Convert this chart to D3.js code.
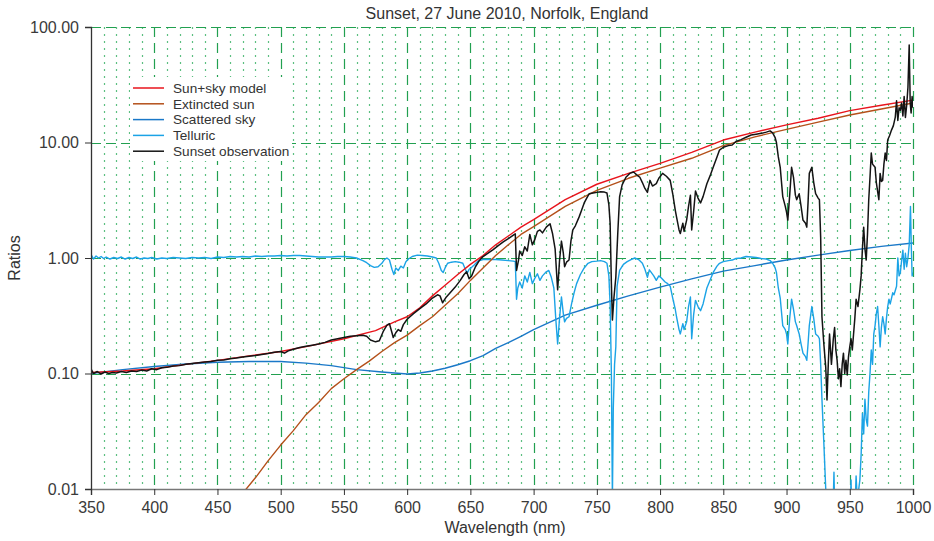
<!DOCTYPE html>
<html>
<head>
<meta charset="utf-8">
<script src="https://cdn.jsdelivr.net/npm/d3@7"></script>
<style>
  html, body { margin: 0; padding: 0; background: #fff; }
  svg { display: block; font-family: "Liberation Sans", Arial, Helvetica, sans-serif; }
</style>
</head>
<body>
<svg id="chart" width="934" height="541"></svg>
<script>
// ---- data --------------------------------------------------------------
const chartTitle = "Sunset, 27 June 2010, Norfolk, England";
const xTicks = [350, 400, 450, 500, 550, 600, 650, 700, 750, 800, 850, 900, 950, 1000];
const yTicks = [0.01, 0.1, 1, 10, 100];
const yTickLabels = ["0.01", "0.10", "1.00", "10.00", "100.00"];
const seriesNames = ["Sun+sky model", "Extincted sun", "Scattered sky", "Telluric", "Sunset observation"];
const seriesColors = ["#e8141c", "#b4501a", "#1a78c8", "#1ba3e6", "#141414"];

// [wavelength nm, ratio]
const sunSkyModel = [
  [350,0.102],[375,0.105],[400,0.110],[425,0.120],[450,0.130],[475,0.142],[500,0.155],
  [525,0.175],[550,0.200],[575,0.235],[590,0.280],[600,0.310],[610,0.370],[620,0.470],
  [630,0.580],[640,0.720],[650,0.880],[660,1.05],[670,1.30],[680,1.55],[690,1.85],
  [700,2.15],[725,3.20],[750,4.35],[775,5.40],[800,6.60],[825,8.20],[850,10.5],
  [875,12.3],[900,14.2],[925,16.2],[950,18.9],[975,21.0],[1000,23.3]
];

const extinctedSun = [
  [465,0.0080],[470,0.0092],[480,0.0125],[490,0.0175],[500,0.024],[510,0.032],[520,0.044],
  [530,0.056],[540,0.074],[550,0.090],[560,0.108],[570,0.128],[580,0.155],[590,0.185],
  [600,0.215],[610,0.260],[620,0.310],[630,0.390],[640,0.490],[650,0.640],[660,0.820],
  [670,1.05],[680,1.30],[690,1.60],[700,1.87],[725,2.80],[750,3.85],[775,4.90],[800,6.00],
  [825,7.30],[850,9.40],[875,11.2],[900,13.0],[925,15.0],[950,17.3],[975,19.5],[1000,22.0]
];

const scatteredSky = [
  [350,0.100],[375,0.108],[400,0.115],[425,0.121],[450,0.125],[475,0.127],[500,0.127],
  [520,0.123],[540,0.117],[560,0.108],[580,0.103],[590,0.101],[600,0.099],[610,0.101],
  [620,0.105],[630,0.111],[640,0.119],[650,0.129],[660,0.143],[670,0.165],[680,0.185],
  [690,0.210],[700,0.240],[725,0.320],[750,0.390],[775,0.470],[800,0.560],[825,0.660],
  [850,0.770],[875,0.860],[900,0.960],[925,1.06],[950,1.16],[975,1.26],[1000,1.35]
];

const telluric = [
  [350,0.78],[350.3,1.06],[352,0.98],[354,1.04],[356,1.00],[358,1.03],[360,0.99],[362,1.02],
  [365,0.98],[368,1.01],[371,0.99],[374,1.02],[377,0.98],[380,1.01],[383,0.99],[386,1.02],
  [389,0.98],[392,1.00],[395,0.99],[398,1.01],[402,0.98],[406,1.00],[410,0.99],[415,1.01],
  [420,1.00],[425,0.99],[430,1.01],[435,1.00],[440,1.01],[445,0.99],[450,1.02],[455,1.01],
  [460,1.03],[465,1.02],[470,1.03],[475,1.02],[480,1.04],[485,1.03],[490,1.04],[495,1.04],
  [500,1.05],[505,1.04],[510,1.05],[515,1.05],[520,1.04],[525,1.03],[530,1.02],[535,1.02],
  [540,1.02],[545,1.03],[550,1.03],[555,1.02],[560,1.00],[565,0.95],[568,0.91],[571,0.86],
  [574,0.83],[577,0.84],[580,0.90],[582,0.97],[584,1.00],[586,0.96],[588,0.80],[589.5,0.72],
  [591,0.82],[593,0.78],[595,0.85],[597,0.82],[599,0.93],[601,0.98],[604,1.03],[608,1.06],
  [612,1.05],[616,1.04],[620,1.02],[623,1.00],[625,0.90],[627,0.78],[628.5,0.75],[630,0.82],
  [632,0.90],[635,0.92],[638,0.93],[641,0.92],[644,0.90],[646,0.80],[647.5,0.74],[649,0.80],
  [651,0.83],[653,0.87],[656,0.94],[660,0.97],[665,0.97],[670,0.97],[675,0.96],[680,0.95],
  [684,0.94],[685.5,0.93],[686.5,0.44],[687.5,0.55],[689,0.62],[691,0.55],[693,0.70],
  [695,0.62],[697,0.75],[699,0.60],[701,0.67],[703,0.73],[705,0.64],[707,0.70],[710,0.76],
  [712,0.78],[714,0.68],[716,0.55],[717.5,0.30],[719,0.18],[720.5,0.30],[722,0.46],
  [723.5,0.33],[724.5,0.28],[726,0.30],[728,0.31],[730,0.40],[732,0.50],[734,0.60],
  [737,0.72],[740,0.82],[743,0.90],[746,0.93],[750,0.94],[753,0.95],[756,0.93],[758,0.90],
  [759.5,0.70],[760.5,0.40],[761.5,0.10],[762.3,0.008],[763,0.05],[764,0.12],[765,0.17],
  [766,0.57],[768,0.78],[771,0.88],[774,0.93],[777,0.97],[780,1.00],[783,0.97],[786,0.90],
  [788,0.80],[790,0.68],[791.5,0.79],[793,0.75],[795,0.70],[797,0.64],[799,0.70],[801,0.67],
  [804,0.62],[806,0.60],[808,0.57],[810,0.45],[812,0.36],[813,0.31],[815,0.24],[816,0.22],
  [818,0.27],[819,0.24],[821,0.28],[822.5,0.38],[824,0.46],[825,0.20],[826.5,0.32],
  [828,0.43],[830,0.38],[832,0.35],[834,0.40],[837,0.55],[840,0.66],[842,0.75],[845,0.85],
  [847,0.90],[850,0.93],[854,0.95],[857,0.96],[860,0.99],[864,1.00],[868,1.03],[872,1.02],
  [876,1.01],[880,0.99],[884,0.98],[887,0.95],[889,0.90],[891,0.82],[892,0.75],[893.5,0.55],
  [895,0.45],[897,0.26],[899,0.24],[900,0.22],[901,0.18],[902.5,0.30],[904,0.44],
  [905.5,0.36],[907,0.28],[908,0.26],[910,0.22],[911.5,0.18],[913,0.15],[915,0.14],
  [916,0.13],[917,0.18],[918,0.26],[920,0.38],[921.5,0.30],[923,0.22],[925,0.21],[926,0.20],
  [927,0.12],[928,0.06],[929.5,0.025],[931,0.010],[932,0.006],[934,0.004],[936,0.003],
  [937.5,0.014],[938.5,0.004],[941,0.003],[944,0.004],[947,0.003],[950,0.005],[951,0.012],
  [952,0.004],[954,0.006],[955,0.013],[956,0.008],[958,0.012],[959,0.020],[960,0.045],
  [961,0.030],[962,0.060],[963,0.040],[964,0.035],[965,0.069],[966,0.10],[967,0.16],
  [968,0.12],[969,0.22],[970,0.26],[971,0.33],[972,0.38],[973,0.26],[974,0.17],[975,0.25],
  [976,0.31],[977,0.27],[978,0.22],[979,0.30],[980,0.38],[981,0.44],[982,0.40],[984,0.50],
  [985,0.48],[987,0.57],[988,1.00],[989,0.70],[990,0.75],[991,0.95],[992,1.17],[993,0.80],
  [994,1.10],[995,0.84],[996,1.00],[997,1.30],[998,2.80],[998.7,1.20],[999.3,0.70],[1000,0.75]
];

const sunsetObservation = [
  [350,0.075],[350.3,0.108],[352,0.100],[355,0.104],[358,0.099],[361,0.103],[364,0.100],
  [367,0.102],[370,0.101],[374,0.104],[378,0.102],[382,0.105],[386,0.104],[390,0.107],
  [394,0.105],[398,0.110],[402,0.108],[406,0.112],[410,0.113],[415,0.116],[420,0.117],
  [425,0.120],[430,0.122],[435,0.124],[440,0.126],[445,0.127],[450,0.130],[455,0.131],
  [460,0.134],[465,0.136],[470,0.139],[475,0.141],[480,0.143],[485,0.146],[490,0.149],
  [495,0.153],[500,0.155],[503,0.150],[506,0.157],[510,0.162],[515,0.168],[520,0.172],
  [525,0.176],[530,0.180],[535,0.186],[540,0.195],[545,0.200],[550,0.205],[555,0.210],
  [560,0.212],[565,0.214],[568,0.210],[571,0.195],[575,0.188],[578,0.192],[581,0.230],
  [584,0.262],[586,0.270],[588,0.225],[589,0.205],[591,0.225],[593,0.240],[595,0.232],
  [597,0.265],[600,0.295],[605,0.330],[610,0.365],[615,0.400],[620,0.450],[624,0.480],
  [626,0.470],[628,0.410],[631,0.460],[634,0.500],[638,0.560],[642,0.640],[645,0.720],
  [647,0.760],[649,0.660],[651,0.700],[654,0.840],[657,0.950],[660,1.03],[664,1.10],
  [668,1.18],[672,1.28],[676,1.38],[680,1.47],[684,1.58],[685.5,1.62],[686.5,0.78],
  [688,0.95],[689,1.15],[691,1.05],[693,1.25],[695,1.15],[697,1.60],[699,1.30],[701,1.45],
  [703,1.70],[705,1.75],[707,1.65],[710,1.85],[713,1.98],[715,1.62],[717,1.20],[719,0.53],
  [720.5,0.95],[722,1.40],[723.5,1.10],[724.5,0.84],[726,0.92],[728,0.96],[729.5,1.40],
  [731,1.75],[733,1.90],[736,2.27],[738,2.60],[740,3.00],[742,3.30],[744,3.60],[747,3.65],
  [750,3.70],[753,3.75],[756,3.72],[758,3.65],[759.5,2.90],[760.5,2.00],[761.5,0.60],
  [762.3,0.29],[763.5,0.45],[765,0.68],[766.5,1.60],[768,3.40],[770,4.30],[773,5.00],
  [776,5.40],[779,5.55],[782,5.20],[784,5.00],[786,4.50],[788,4.00],[790,3.70],[792,4.70],
  [794,4.20],[797,4.40],[799,4.90],[802,5.40],[805,5.10],[808,4.70],[810,3.60],[812,2.60],
  [813,2.27],[815,1.75],[816,1.63],[818,2.00],[819,1.70],[821,2.13],[822.5,2.80],[824,3.50],
  [825,1.75],[826.5,2.50],[828,3.80],[830,3.30],[832,3.00],[834,3.40],[837,4.40],[840,5.30],
  [842,6.10],[845,7.50],[847,8.60],[850,9.10],[854,9.40],[857,9.50],[860,10.2],[864,10.6],
  [868,11.1],[872,11.6],[876,11.8],[880,12.0],[884,12.3],[887,12.6],[889,12.1],[891,11.0],
  [892,10.0],[893.5,7.5],[895,6.1],[897,3.40],[899,2.80],[900,2.50],[901,2.13],[902.5,3.50],
  [904,6.10],[905.5,5.00],[907,3.50],[908,3.20],[910,3.60],[911.5,2.80],[913,2.13],
  [915,2.00],[916,1.85],[917,3.00],[918,5.40],[920,6.10],[921.5,4.50],[923,3.60],[925,3.30],
  [926,3.20],[927,1.50],[928,0.31],[929.5,0.18],[931,0.113],[932,0.059],[933,0.12],
  [934,0.22],[935.5,0.12],[937,0.20],[938,0.25],[939,0.16],[940,0.13],[941,0.09],[942,0.11],
  [943,0.077],[944,0.12],[945,0.15],[946,0.10],[947,0.13],[948,0.097],[949,0.14],[950,0.17],
  [951,0.20],[952,0.16],[953,0.22],[954,0.30],[955,0.44],[956.5,0.38],[958,0.53],[959,0.70],
  [960,1.20],[961,1.85],[962,1.20],[963,0.96],[964,1.60],[965,3.20],[966,5.00],[967,8.10],
  [968,6.50],[970,6.10],[971,4.50],[973,3.20],[974,5.40],[975,4.60],[976,4.70],[977,6.50],
  [978,8.10],[979,7.00],[980,10.5],[981.5,11.5],[983,12.8],[984.5,14.0],[986,16.6],
  [987,23.0],[988,15.5],[989,20.0],[990,19.0],[991,22.0],[992,17.0],[993,25.0],[994,16.5],
  [995,21.0],[996,30.0],[997,70.0],[997.8,22.0],[998.5,18.0],[999.3,25.0],[1000,20.0]
];

// ---- layout ------------------------------------------------------------
const W = 934, H = 541;
const margin = { left: 91, right: 21, top: 27, bottom: 52 };
const iw = W - margin.left - margin.right;
const ih = H - margin.top - margin.bottom;

const svg = d3.select("#chart");
const g = svg.append("g").attr("transform", `translate(${margin.left},${margin.top})`);

const x = d3.scaleLinear().domain([350, 1000]).range([0, iw]);
const y = d3.scaleLog().domain([0.01, 100]).range([ih, 0]);
// grid lines sit on pixel centres so they stay crisp
const snap = v => Math.round(v) + 0.5;

svg.append("defs").append("clipPath").attr("id", "plot-clip")
  .append("rect").attr("x", 0).attr("y", 0).attr("width", iw).attr("height", ih);

// ---- grid --------------------------------------------------------------
const minorX = d3.range(360, 1000, 10).filter(v => v % 50 !== 0);
const majorX = d3.range(400, 1001, 50);

g.append("g").selectAll("line").data(minorX).join("line")
  .attr("x1", d => snap(x(d))).attr("x2", d => snap(x(d)))
  .attr("y1", 0).attr("y2", ih)
  .attr("stroke", "#3fb46a").attr("stroke-opacity", 0.85).attr("stroke-width", 1.2)
  .attr("stroke-dasharray", "2,5");

g.append("g").selectAll("line").data(majorX).join("line")
  .attr("x1", d => snap(x(d))).attr("x2", d => snap(x(d)))
  .attr("y1", 0).attr("y2", ih)
  .attr("stroke", "#22a050").attr("stroke-width", 1.2)
  .attr("stroke-dasharray", "10,6");

g.append("g").selectAll("line").data(yTicks.slice(1)).join("line")
  .attr("x1", 0).attr("x2", iw)
  .attr("y1", d => snap(y(d))).attr("y2", d => snap(y(d)))
  .attr("stroke", "#22a050").attr("stroke-width", 1.2)
  .attr("stroke-dasharray", "10,5");

// ---- legend background (covers the grid beneath it) ---------------------
const legendBox = { x: 130 - margin.left, y: 77 - margin.top, w: 162, h: 84 };
g.append("rect")
  .attr("x", legendBox.x).attr("y", legendBox.y)
  .attr("width", legendBox.w).attr("height", legendBox.h)
  .attr("fill", "#fff");

// ---- series ------------------------------------------------------------
const line = d3.line()
  .x(d => x(d[0]))
  .y(d => y(Math.max(d[1], 0.0005)));

const series = [sunSkyModel, extinctedSun, scatteredSky, telluric, sunsetObservation];
const drawOrder = [2, 3, 1, 0, 4];
const plot = g.append("g").attr("clip-path", "url(#plot-clip)");
drawOrder.forEach(i => {
  plot.append("path")
    .datum(series[i])
    .attr("fill", "none")
    .attr("stroke", seriesColors[i])
    .attr("stroke-width", i === 4 ? 1.5 : 1.4)
    .attr("stroke-linejoin", "round")
    .attr("d", line);
});

// ---- axes --------------------------------------------------------------
const xAxis = d3.axisBottom(x).tickValues(xTicks).tickSize(6).tickPadding(7).tickFormat(d3.format("d"));
const xg = g.append("g").attr("transform", `translate(0,${ih})`).call(xAxis);
xg.select(".domain").attr("stroke", "#777").attr("stroke-width", 1.6);
xg.selectAll(".tick line").attr("stroke", "#333");
xg.selectAll(".tick text").attr("fill", "#3a3a3a").attr("font-size", 16)
  .attr("font-family", "Liberation Sans, Arial, sans-serif");

const yAxis = d3.axisLeft(y).tickValues(yTicks).tickSize(6).tickPadding(6)
  .tickFormat((d, i) => yTickLabels[i]);
const yg = g.append("g").call(yAxis);
yg.select(".domain").attr("stroke", "#333").attr("stroke-width", 1.3);
yg.selectAll(".tick line").attr("stroke", "#333");
yg.selectAll(".tick text").attr("fill", "#3a3a3a").attr("font-size", 16)
  .attr("font-family", "Liberation Sans, Arial, sans-serif");

// ---- titles ------------------------------------------------------------
svg.append("text")
  .attr("x", 507).attr("y", 19)
  .attr("text-anchor", "middle").attr("font-size", 16).attr("fill", "#333")
  .text(chartTitle);

svg.append("text")
  .attr("x", 505).attr("y", 533)
  .attr("text-anchor", "middle").attr("font-size", 16).attr("fill", "#333")
  .text("Wavelength (nm)");

svg.append("text")
  .attr("transform", "translate(20,258) rotate(-90)")
  .attr("text-anchor", "middle").attr("font-size", 16).attr("fill", "#333")
  .text("Ratios");

// ---- legend ------------------------------------------------------------
const legend = svg.append("g").attr("transform", "translate(133,88)");
seriesNames.forEach((name, i) => {
  const row = legend.append("g").attr("transform", `translate(0,${i * 15.8})`);
  row.append("line").attr("x1", 0).attr("x2", 31).attr("y1", 0).attr("y2", 0)
    .attr("stroke", seriesColors[i]).attr("stroke-width", 1.5);
  row.append("text").attr("x", 40).attr("y", 4.8)
    .attr("font-size", 13.6).attr("fill", "#333").text(name);
});
</script>
</body>
</html>
